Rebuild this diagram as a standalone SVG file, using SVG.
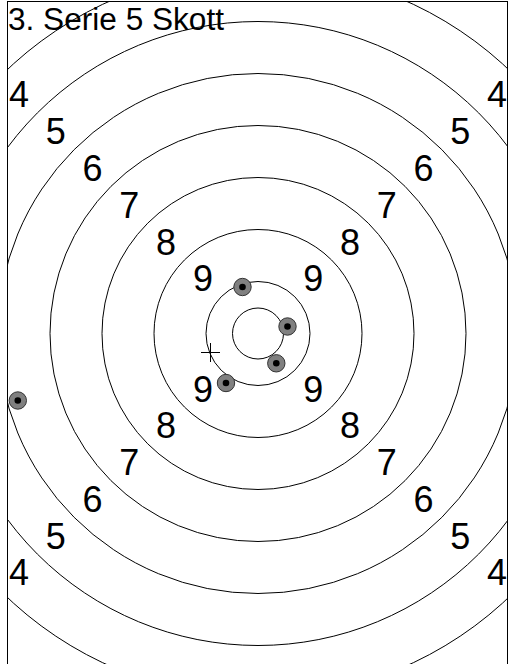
<svg xmlns="http://www.w3.org/2000/svg" width="509" height="664" viewBox="0 0 509 664">
<style>
.ring{fill:none;stroke:#000;stroke-width:1}
.lbl{font-family:"Liberation Sans",Arial,sans-serif;font-size:36px;fill:#000;text-anchor:middle}
.title{font-family:"Liberation Sans",Arial,sans-serif;font-size:31px;fill:#000}
.shot{fill:#808080;stroke:#333;stroke-width:1}
.dot{fill:#000}
</style>
<defs>
<clipPath id="frameClip"><rect x="7.5" y="1.5" width="500" height="700"/></clipPath>
</defs>
<rect x="0" y="0" width="509" height="664" fill="#fff"/>
<g id="rings" clip-path="url(#frameClip)">
<circle class="ring" cx="258" cy="333.5" r="25.5"/>
<circle class="ring" cx="258" cy="333.5" r="52"/>
<circle class="ring" cx="258" cy="333.5" r="104"/>
<circle class="ring" cx="258" cy="333.5" r="156"/>
<circle class="ring" cx="258" cy="333.5" r="208"/>
<circle class="ring" cx="258" cy="333.5" r="260"/>
<circle class="ring" cx="258" cy="333.5" r="312"/>
<circle class="ring" cx="258" cy="333.5" r="364"/>
</g>
<rect id="frame" x="7.5" y="1.5" width="500" height="700" fill="none" stroke="#000" stroke-width="1"/>
<text class="title" x="8" y="29.5" textLength="216" lengthAdjust="spacingAndGlyphs">3. Serie 5 Skott</text>
<g id="labels">
<text class="lbl" x="19" y="107.4">4</text>
<text class="lbl" x="55.8" y="144.2">5</text>
<text class="lbl" x="92.5" y="180.9">6</text>
<text class="lbl" x="129.3" y="217.7">7</text>
<text class="lbl" x="166.1" y="254.5">8</text>
<text class="lbl" x="202.9" y="291.3">9</text>
<text class="lbl" x="497" y="107.4">4</text>
<text class="lbl" x="460.2" y="144.2">5</text>
<text class="lbl" x="423.5" y="180.9">6</text>
<text class="lbl" x="386.7" y="217.7">7</text>
<text class="lbl" x="349.9" y="254.5">8</text>
<text class="lbl" x="313.2" y="291.3">9</text>
<text class="lbl" x="19" y="585.4">4</text>
<text class="lbl" x="55.8" y="548.6">5</text>
<text class="lbl" x="92.5" y="511.9">6</text>
<text class="lbl" x="129.3" y="475.1">7</text>
<text class="lbl" x="166.1" y="438.3">8</text>
<text class="lbl" x="202.9" y="401.6">9</text>
<text class="lbl" x="497" y="585.4">4</text>
<text class="lbl" x="460.2" y="548.6">5</text>
<text class="lbl" x="423.5" y="511.9">6</text>
<text class="lbl" x="386.7" y="475.1">7</text>
<text class="lbl" x="349.9" y="438.3">8</text>
<text class="lbl" x="313.2" y="401.6">9</text>
</g>
<g id="center-mark" stroke="#000" stroke-width="1">
<line x1="201" y1="352.5" x2="220" y2="352.5"/>
<line x1="210.5" y1="343" x2="210.5" y2="362"/>
</g>
<g id="shots">
<circle class="shot" cx="242.5" cy="287" r="8.7"/><circle class="dot" cx="242.5" cy="287" r="3.3"/>
<circle class="shot" cx="287.5" cy="326.5" r="8.7"/><circle class="dot" cx="287.5" cy="326.5" r="3.3"/>
<circle class="shot" cx="276.3" cy="363.3" r="8.7"/><circle class="dot" cx="276.3" cy="363.3" r="3.3"/>
<circle class="shot" cx="226" cy="383" r="8.7"/><circle class="dot" cx="226" cy="383" r="3.3"/>
<circle class="shot" cx="17.8" cy="400.5" r="8.7"/><circle class="dot" cx="17.8" cy="400.5" r="3.3"/>
</g>
</svg>
